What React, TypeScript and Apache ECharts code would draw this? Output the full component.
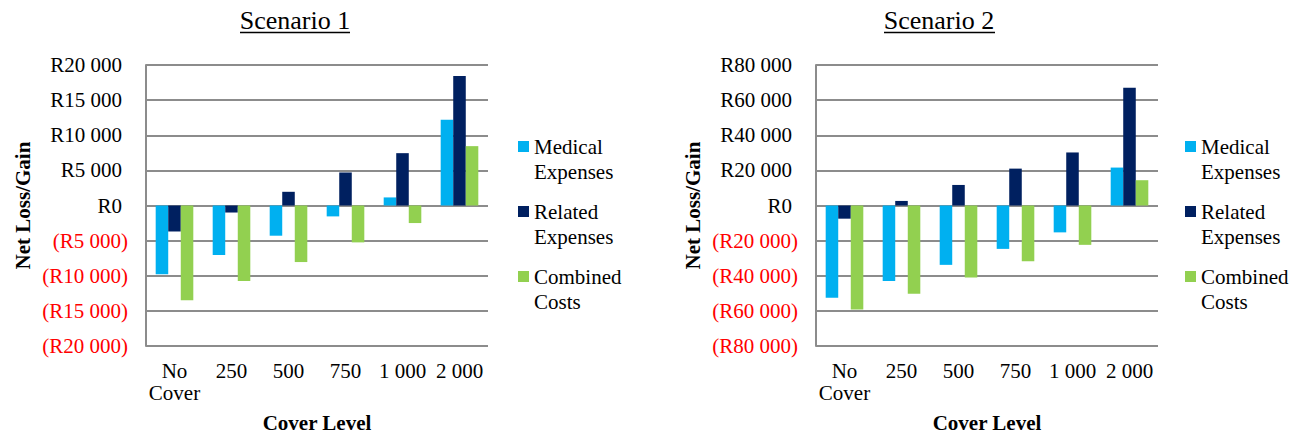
import React, { useEffect, useRef } from "react";
import * as echarts from "echarts";

const categories = ["No\nCover", "250", "500", "750", "1 000", "2 000"];
const seriesNames = ["Medical Expenses", "Related Expenses", "Combined Costs"];
const seriesColors = ["#00B0F0", "#002060", "#92D050"];

const s1Medical = [-9800, -7050, -4300, -1550, 1150, 12200];
const s1Related = [-3700, -1000, 1950, 4700, 7450, 18450];
const s1Combined = [-13500, -10750, -8050, -5250, -2500, 8450];

const s2Medical = [-52500, -43000, -33800, -24700, -15300, 21600];
const s2Related = [-7500, 2600, 11700, 21000, 30200, 67000];
const s2Combined = [-59200, -50200, -41000, -31700, -22400, 14400];

const scenarioTitles = ["Scenario 1", "Scenario 2"];
const s1Range = { min: -20000, max: 20000, interval: 5000 };
const s2Range = { min: -80000, max: 80000, interval: 20000 };

const FONT = "Liberation Serif";
const GRID_COLOR = "#8c8c8c";

function fmt(v: number): string {
  return String(Math.round(v)).replace(/\B(?=(\d{3})+(?!\d))/g, " ");
}

function yLabel(v: number): string {
  if (v < 0) return `{n|(R${fmt(-v)})}`;
  return `{p|R${fmt(v)}}`;
}

export default function App() {
  const ref = useRef<HTMLDivElement>(null);

  useEffect(() => {
    if (!ref.current) return;
    const chart = echarts.init(ref.current, undefined, { renderer: "svg" });

    const grids = [
      { left: 146, top: 65, width: 342, height: 281 },
      { left: 816, top: 65, width: 342, height: 281 },
    ];

    const makeX = (gi: number) => ({
      type: "category" as const,
      gridIndex: gi,
      data: categories,
      axisLine: { show: false },
      axisTick: { show: false },
      axisLabel: {
        interval: 0,
        margin: 14,
        fontFamily: FONT,
        fontSize: 21,
        lineHeight: 22,
        color: "#000",
      },
      name: "Cover Level",
      nameLocation: "middle" as const,
      nameGap: 66,
      nameTextStyle: {
        fontFamily: FONT,
        fontSize: 21,
        fontWeight: "bold" as const,
        color: "#000",
      },
    });

    const makeY = (gi: number, r: { min: number; max: number; interval: number }) => ({
      type: "value" as const,
      gridIndex: gi,
      min: r.min,
      max: r.max,
      interval: r.interval,
      axisLine: { show: true, lineStyle: { color: GRID_COLOR, width: 2 } },
      axisTick: { show: false },
      splitLine: { show: true, lineStyle: { color: GRID_COLOR, width: 2 } },
      axisLabel: {
        margin: 18,
        fontFamily: FONT,
        fontSize: 21,
        formatter: yLabel,
        rich: {
          n: { color: "#FF0000", fontFamily: FONT, fontSize: 21 },
          p: { color: "#000", fontFamily: FONT, fontSize: 21, padding: [0, 6, 0, 0] },
        },
      },
      name: "Net Loss/Gain",
      nameLocation: "middle" as const,
      nameGap: 113,
      nameTextStyle: {
        fontFamily: FONT,
        fontSize: 21,
        fontWeight: "bold" as const,
        color: "#000",
      },
    });

    const data = [
      [s1Medical, s1Related, s1Combined],
      [s2Medical, s2Related, s2Combined],
    ];

    const series: any[] = [];
    data.forEach((group, gi) => {
      group.forEach((vals, si) => {
        series.push({
          type: "bar",
          name: seriesNames[si],
          xAxisIndex: gi,
          yAxisIndex: gi,
          data: vals,
          barGap: "0%",
          barCategoryGap: "34%",
          itemStyle: { color: seriesColors[si] },
        });
      });
    });

    const legendIcon = "path://M0,0 M0,50 M0,7H11V18H0Z";
    const makeLegend = (left: number) => ({
      orient: "vertical" as const,
      left,
      top: 134,
      padding: 0,
      itemGap: 15,
      itemWidth: 11,
      itemHeight: 50,
      itemTextGap: 4,
      icon: legendIcon,
      data: seriesNames,
      formatter: (name: string) => name.replace(" ", "\n"),
      textStyle: {
        fontFamily: FONT,
        fontSize: 21,
        lineHeight: 25,
        color: "#000",
      },
      selectedMode: false,
    });

    const titlePos = [
      { cx: 295, x1: 240, x2: 350 },
      { cx: 939, x1: 884, x2: 995 },
    ];

    const graphic: any[] = [];
    scenarioTitles.forEach((t, i) => {
      graphic.push({
        type: "text",
        x: titlePos[i].cx,
        y: 20,
        style: {
          text: t,
          fontFamily: FONT,
          fontSize: 26,
          fill: "#000",
          align: "center",
          verticalAlign: "middle",
        },
      });
      graphic.push({
        type: "line",
        shape: { x1: titlePos[i].x1, y1: 32.5, x2: titlePos[i].x2, y2: 32.5 },
        style: { stroke: "#000", lineWidth: 1.5 },
      });
    });

    chart.setOption({
      animation: false,
      backgroundColor: "#ffffff",
      textStyle: { fontFamily: FONT },
      grid: grids,
      xAxis: [makeX(0), makeX(1)],
      yAxis: [makeY(0, s1Range), makeY(1, s2Range)],
      legend: [makeLegend(518), makeLegend(1185)],
      series,
      graphic,
    });

    return () => {
      chart.dispose();
    };
  }, []);

  return (
    <div
      ref={ref}
      style={{ position: "fixed", left: 0, top: 0, width: 1302, height: 439, background: "#fff" }}
    />
  );
}
